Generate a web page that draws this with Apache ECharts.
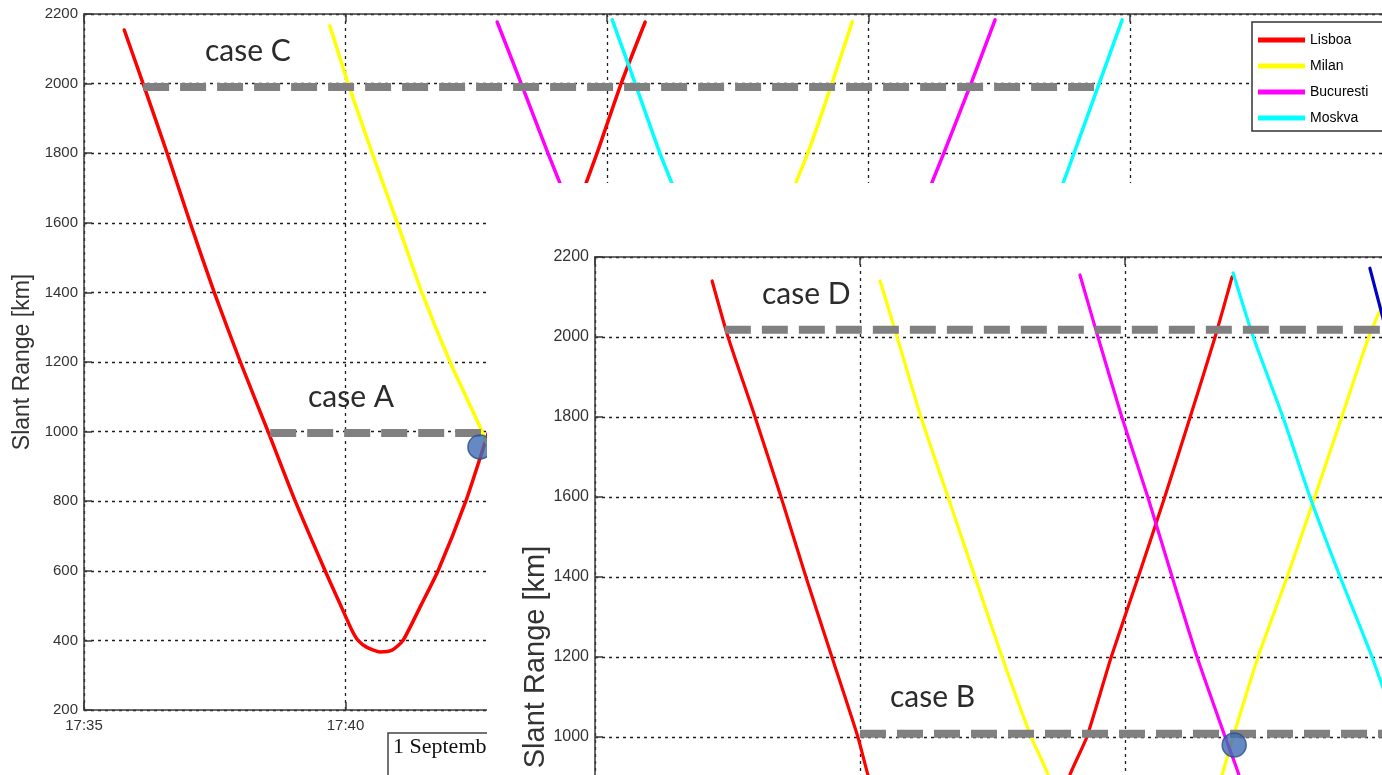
<!DOCTYPE html>
<html><head><meta charset="utf-8">
<script src="https://cdn.jsdelivr.net/npm/echarts/dist/echarts.min.js"></script>
<style>
html,body{margin:0;padding:0;background:#fff;overflow:hidden;}
#wrapA{position:absolute;left:0;top:0;width:1382px;height:775px;overflow:hidden;}
#main{position:absolute;left:0;top:0;width:1500px;height:775px;}
#wrapB{position:absolute;left:487px;top:183px;width:895px;height:592px;overflow:hidden;background:#fff;}
#inset{position:absolute;left:0;top:0;width:1300px;height:1000px;}
</style></head><body>
<div id="wrapA"><div id="main"></div></div>
<div id="wrapB"><div id="inset"></div></div>
<script>
// ---------- DATA ----------
const cities = ['Lisboa', 'Milan', 'Bucuresti', 'Moskva'];
const cityColors = ['#ff0000', '#ffff00', '#ff00ff', '#00ffff'];
const timeLabels = ['17:35', '17:40', '17:45', '17:50', '17:55', '18:00'];
const yAxisTitle = 'Slant Range [km]';
const dateText = '1 September';

// Background chart: time in minutes after 17:35, slant range in km
const bgLisboaT = [0.77, 1.13, 1.59, 2.03, 2.49, 2.99, 3.52, 4.04, 4.61, 4.91, 5.12, 5.24, 5.41, 5.66, 5.89, 6.10, 6.44, 6.77, 7.30, 7.65, 7.74, 8.30, 8.83, 9.33, 9.60, 9.81, 10.27, 10.73];
const bgLisboaR = [2154, 2000, 1800, 1600, 1400, 1200, 1000, 800, 600, 500, 430, 400, 380, 367, 372, 400, 500, 600, 800, 960, 1000, 1200, 1400, 1600, 1714, 1800, 2000, 2177];
const bgMilanT = [4.70, 5.05, 5.51, 5.99, 6.46, 7.00, 7.61, 8.15, 8.72, 9.35, 9.68, 10.00, 10.63, 11.21, 11.74, 12.35, 12.89, 13.37, 13.61, 13.84, 14.30, 14.69];
const bgMilanR = [2166, 2000, 1800, 1600, 1400, 1200, 1000, 800, 600, 420, 390, 420, 600, 800, 1000, 1200, 1400, 1600, 1714, 1800, 2000, 2178];
const bgBucT = [7.90, 8.36, 8.87, 9.10, 9.39, 9.92, 10.50, 11.11, 11.78, 12.66, 13.54, 14.21, 14.82, 15.39, 15.93, 16.21, 16.44, 16.96, 17.42];
const bgBucR = [2177, 2000, 1800, 1714, 1600, 1400, 1200, 1000, 800, 620, 800, 1000, 1200, 1400, 1600, 1714, 1800, 2000, 2183];
const bgMosT = [10.10, 10.54, 11.01, 11.24, 11.53, 12.05, 12.58, 13.16, 13.79, 14.97, 16.16, 16.79, 17.36, 17.90, 18.41, 18.72, 18.93, 19.41, 19.85];
const bgMosR = [2183, 2000, 1800, 1714, 1600, 1400, 1200, 1000, 800, 600, 800, 1000, 1200, 1400, 1600, 1714, 1800, 2000, 2183];
const bgCaseC = {label: 'case C', t0: 1.13, t1: 19.43, r: 1990};
const bgCaseA = {label: 'case A', t0: 3.56, t1: 7.59, r: 996};
const bgDot = [7.57, 956];

// Inset chart
const inLisboaT = [2.21, 2.51, 3.02, 3.51, 3.98, 4.47, 4.96, 5.15, 5.62, 6.20, 7.12, 8.04, 8.50, 8.96, 9.28, 9.74, 10.25, 10.75, 11.23, 11.70, 12.02];
const inLisboaR = [2140, 2000, 1800, 1600, 1400, 1200, 1000, 905, 700, 500, 400, 500, 700, 905, 1000, 1200, 1400, 1600, 1800, 2000, 2150];
const inMilanT = [5.38, 5.70, 6.15, 6.66, 7.17, 7.68, 8.23, 8.55, 9.00, 9.50, 10.13, 10.76, 11.30, 11.83, 12.04, 12.51, 13.06, 13.58, 14.09, 14.60, 15.09];
const inMilanR = [2140, 2000, 1800, 1600, 1400, 1200, 1000, 905, 700, 500, 420, 500, 700, 905, 1000, 1200, 1400, 1600, 1800, 2000, 2150];
const inBucT = [9.15, 9.49, 9.94, 10.43, 10.89, 11.36, 11.89, 12.15, 12.60, 13.20, 14.10];
const inBucR = [2155, 2000, 1800, 1600, 1400, 1200, 1000, 905, 700, 500, 420];
const inMosT = [12.04, 12.42, 12.98, 13.49, 14.06, 14.66, 15.19];
const inMosR = [2160, 2000, 1800, 1600, 1400, 1200, 1000];
const inBlueT = [14.62, 14.92, 15.19];
const inBlueR = [2172, 2020, 1880];
const inCaseD = {label: 'case D', t0: 2.45, t1: 16.5, r: 2018};
const inCaseB = {label: 'case B', t0: 5.00, t1: 16.5, r: 1008};
const inDot = [12.06, 980];

// ---------- HELPERS ----------
const sans = "'Liberation Sans', Arial, sans-serif";
const zip = (ts, rs) => ts.map((t, i) => [t, rs[i]]);
function curve(name, ts, rs, color, width) {
  return {type: 'line', name, data: zip(ts, rs), symbol: 'none', showSymbol: false,
    smooth: 0.2, lineStyle: {color, width, join: 'round', cap: 'round'}, itemStyle: {color},
    z: 3, silent: true, animation: false};
}
function caseLine(c) {
  return {type: 'line', name: c.label, data: [[c.t0, c.r], [c.t1, c.r]], symbol: 'none',
    lineStyle: {color: '#808080', width: 8, type: [26, 11], cap: 'butt'}, z: 5, silent: true};
}
function dot(p) {
  return {type: 'scatter', data: [p], symbolSize: 24, z: 6, silent: true,
    itemStyle: {color: '#3e6db4', borderColor: '#2b4f85', borderWidth: 1.5}};
}
function axes(maxT, labelSize, titleSize, nameGap, noMove) {
  const lineC = '#3a3a3a';
  const split = {show: true, lineStyle: {type: [3, 4], color: '#1e1e1e', width: 1.3}};
  const fmt = v => timeLabels[Math.round(v / 5)] || '';
  const y = {type: 'value', min: 200, max: 2200, interval: 200,
      axisLine: {show: true, lineStyle: {color: lineC, width: 1.5}},
      axisTick: {show: true, inside: true, length: 8, lineStyle: {color: lineC, width: 1.5}},
      axisLabel: {color: '#333', fontSize: labelSize, fontFamily: sans, margin: 6,
        formatter: v => String(v)},
      splitLine: split,
      name: yAxisTitle, nameLocation: 'middle', nameGap: nameGap,
      nameTextStyle: {fontSize: titleSize, color: '#333', fontFamily: sans}};
  if (noMove) y.nameMoveOverlap = false;
  return {
    xAxis: [
      {type: 'value', min: 0, max: maxT, interval: 5, position: 'bottom',
        axisLine: {show: true, lineStyle: {color: lineC, width: 1.5}},
        axisTick: {show: true, inside: true, length: 8, lineStyle: {color: lineC, width: 1.5}},
        axisLabel: {formatter: fmt, color: '#333', fontSize: labelSize, fontFamily: sans, margin: 8},
        splitLine: split},
      {type: 'value', min: 0, max: maxT, interval: 5, position: 'top',
        axisLine: {show: true, lineStyle: {color: lineC, width: 1.5}},
        axisTick: {show: true, inside: true, length: 8, lineStyle: {color: lineC, width: 1.5}},
        axisLabel: {show: false}, splitLine: {show: false}}
    ],
    yAxis: [y]
  };
}
function caseText(x, y, text) {
  return {type: 'text', x, y, z: 100,
    style: {text, font: "30px Lato, 'Open Sans', sans-serif", fill: '#2b2b2b',
      textAlign: 'left', textVerticalAlign: 'middle'}};
}

// ---------- BACKGROUND CHART ----------
const chartA = echarts.init(document.getElementById('main'), null, {renderer: 'canvas'});
const axA = axes(25, 15, 23, 48, false);
chartA.setOption({
  animation: false,
  backgroundColor: '#ffffff',
  grid: {left: 84, top: 14, width: 1307.5, height: 696, show: false},
  xAxis: axA.xAxis, yAxis: axA.yAxis,
  legend: {data: cities, orient: 'vertical', left: 1252, top: 22, icon: 'rect',
    itemWidth: 47, itemHeight: 5, itemGap: 12, padding: [11, 24, 6, 6],
    borderColor: '#333', borderWidth: 1.5, backgroundColor: '#fff', selectedMode: false,
    textStyle: {fontFamily: sans, fontSize: 14, color: '#000'}, z: 20},
  series: [
    curve(cities[0], bgLisboaT, bgLisboaR, cityColors[0], 3.5),
    curve(cities[1], bgMilanT, bgMilanR, cityColors[1], 3.5),
    curve(cities[2], bgBucT, bgBucR, cityColors[2], 3.5),
    curve(cities[3], bgMosT, bgMosR, cityColors[3], 3.5),
    caseLine(bgCaseC), caseLine(bgCaseA), dot(bgDot)
  ],
  graphic: [
    caseText(205, 51, bgCaseC.label),
    caseText(308, 397, bgCaseA.label),
    {type: 'rect', z: 90, shape: {x: 388, y: 733, width: 200, height: 60},
      style: {fill: '#fff', stroke: '#444', lineWidth: 1.5}},
    {type: 'text', x: 393, y: 747, z: 100,
      style: {text: dateText, font: "22px 'Liberation Serif', 'DejaVu Serif', serif", fill: '#111',
        textAlign: 'left', textVerticalAlign: 'middle'}}
  ]
});

// ---------- INSET CHART ----------
const chartB = echarts.init(document.getElementById('inset'), null, {renderer: 'canvas'});
const axB = axes(20, 16, 29, 45, true);
chartB.setOption({
  animation: false,
  backgroundColor: '#ffffff',
  grid: {left: 108, top: 74, width: 1060, height: 800, show: false},
  xAxis: axB.xAxis, yAxis: axB.yAxis,
  series: [
    curve(cities[0], inLisboaT, inLisboaR, cityColors[0], 3.2),
    curve(cities[1], inMilanT, inMilanR, cityColors[1], 3.2),
    curve(cities[2], inBucT, inBucR, cityColors[2], 3.2),
    curve(cities[3], inMosT, inMosR, cityColors[3], 3.2),
    curve('other', inBlueT, inBlueR, '#0000cc', 3.2),
    caseLine(inCaseD), caseLine(inCaseB), dot(inDot)
  ],
  graphic: [
    caseText(275, 111, inCaseD.label),
    caseText(403, 514, inCaseB.label)
  ]
});
</script></body></html>
